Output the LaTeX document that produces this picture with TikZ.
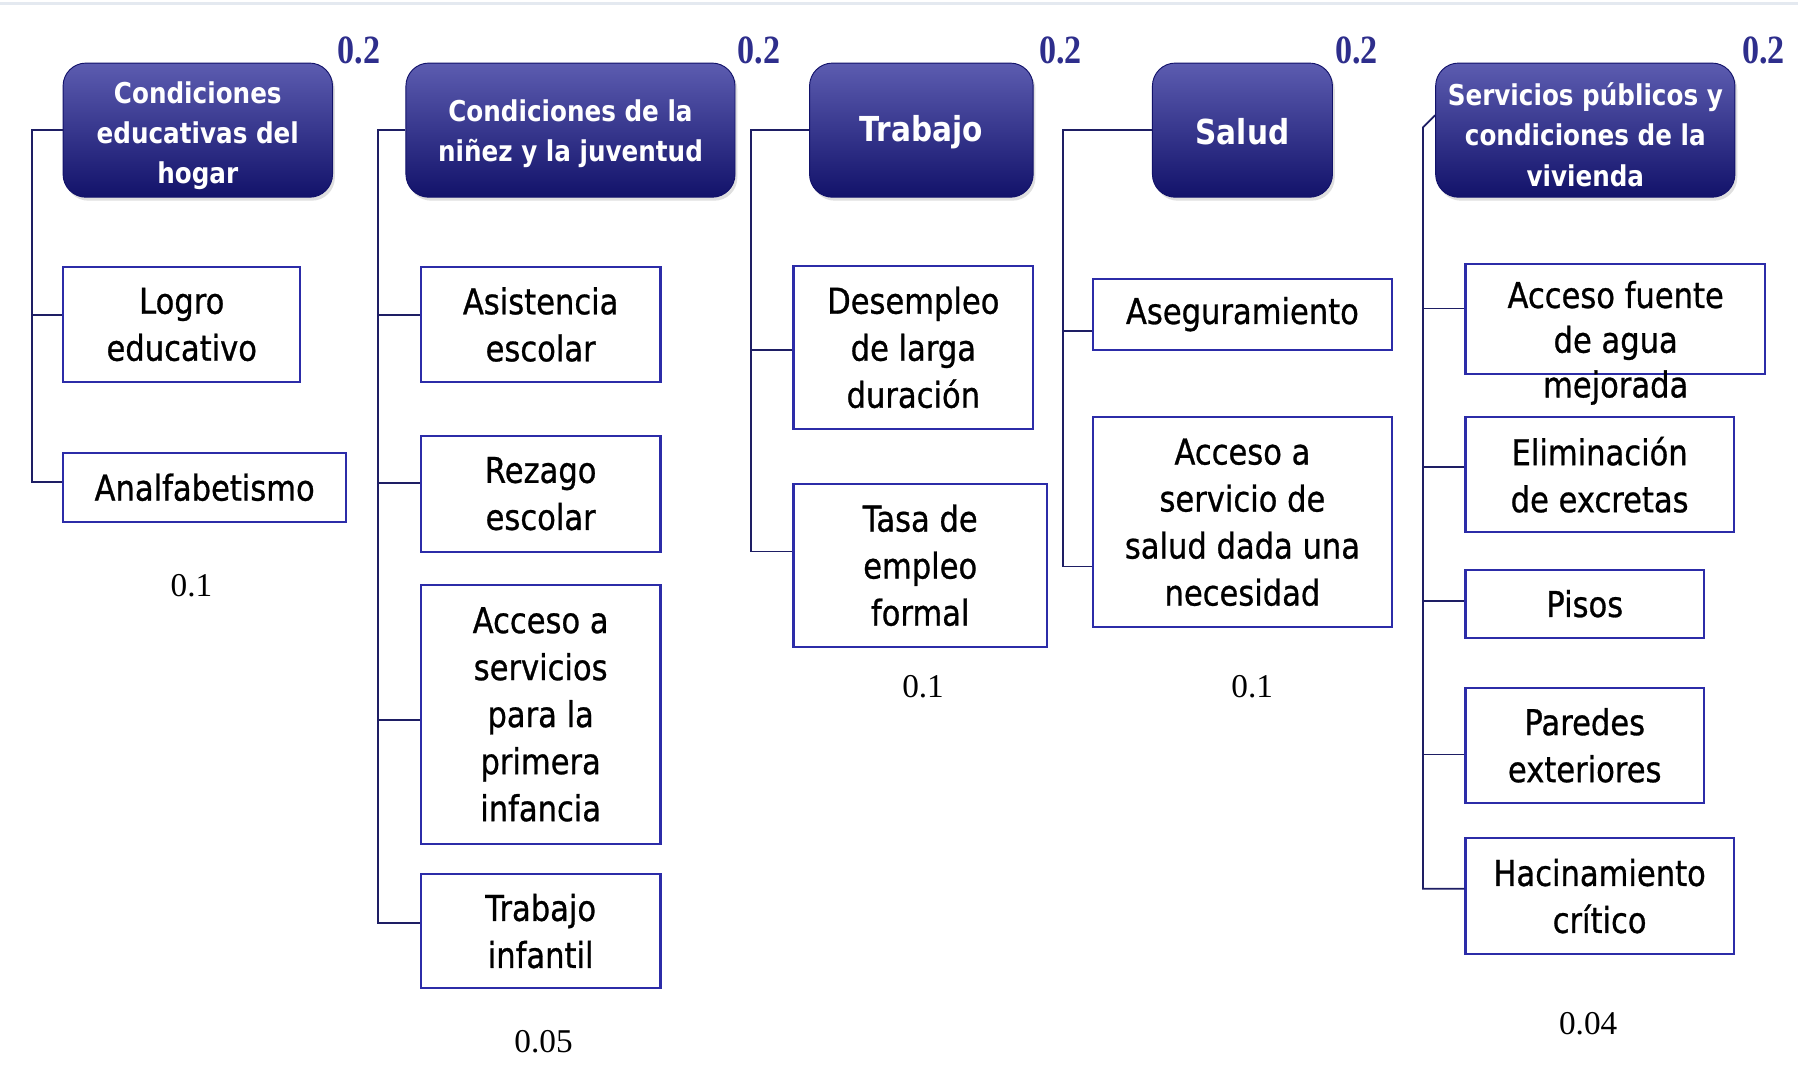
\documentclass[tikz,border=0pt]{standalone}
\usepackage{fontspec}
\usetikzlibrary{shadows,calc}
\setmainfont{DejaVu Sans}
\newfontfamily\bodyf[FakeStretch=0.86,FakeBold=0.8]{DejaVu Sans}
\newfontfamily\headf[FakeStretch=0.86]{DejaVu Sans}
\newfontfamily\numf{Liberation Serif}
\newfontfamily\wnumf[FakeStretch=0.85]{Liberation Serif}
\definecolor{navyline}{HTML}{1E1E64}
\definecolor{boxblue}{HTML}{2C2CA8}
\definecolor{htop}{HTML}{5C5CB0}
\definecolor{hbot}{HTML}{12126A}
\definecolor{wcol}{HTML}{2E2E8C}
\definecolor{topline}{HTML}{E4E9F0}
\tikzset{
  hbox/.style 2 args={rectangle, rounded corners=20pt, minimum width=#1pt, minimum height=#2pt,
     inner sep=0pt, top color=htop, bottom color=hbot, draw=hbot, line width=0.8pt,
     drop shadow={opacity=0.25, shadow xshift=2pt, shadow yshift=-3pt}},
  htext/.style={text=white, align=center, inner sep=0pt,
     font=\headf\bfseries\fontsize{25}{35}\selectfont},
  bbox/.style 2 args={rectangle, minimum width=#1pt, minimum height=#2pt, inner sep=0pt,
     draw=boxblue, line width=1.8pt, fill=white, align=center,
     font=\bodyf\fontsize{31}{41}\selectfont},
  conn/.style={draw=navyline, line width=1.6pt},
  wlab/.style={text=wcol, font=\wnumf\bfseries\fontsize{35}{35}\selectfont, inner sep=0pt},
  slab/.style={text=black, font=\numf\fontsize{29}{29}\selectfont, inner sep=0pt}
}
\begin{document}
\begin{tikzpicture}[x=1pt,y=-1pt]
\useasboundingbox[fill=white] (0,0) rectangle (1568,933);
\draw[topline, line width=3pt] (0,3) -- (1568,3);

% header boxes
\node[hbox={235}{117}] (h1) at (172.5,113.5) {};
\node[hbox={287}{117}] (h2) at (497.5,113.5) {};
\node[hbox={195}{117}] (h3) at (803.5,113.5) {};
\node[hbox={157}{117}] (h4) at (1083.5,113.5) {};
\node[hbox={261}{117}] (h5) at (1382.5,113.5) {};
\node[htext] (t1) at ([yshift=-5pt]h1.center) {Condiciones\\educativas del\\hogar};
\node[htext] (t2) at ([yshift=-3pt]h2.center) {Condiciones de la\\niñez y la juventud};
\node[htext, font=\headf\bfseries\fontsize{30}{34}\selectfont] (t3) at ([yshift=-2pt]h3.center) {Trabajo};
\node[htext, font=\headf\bfseries\fontsize{30}{34}\selectfont] (t4) at ([yshift=-1pt]h4.center) {Salud};
\node[htext] (t5) at ([yshift=-4pt]h5.center) {Servicios públicos y\\condiciones de la\\vivienda};

% weights
\node[wlab] (w1) at (313,44) {0.2};
\node[wlab] (w2) at (662,44) {0.2};
\node[wlab] (w3) at (925,44) {0.2};
\node[wlab] (w4) at (1183,44) {0.2};
\node[wlab] (w5) at (1538,44) {0.2};

% column 1
\node[bbox={207}{100}] (logro) at (158.5,283) {Logro\\educativo};
\node[bbox={247}{60}] (anal) at (178.5,425) {Analfabetismo};
% column 2
\node[bbox={209}{100}] (asis) at (471.5,283) {Asistencia\\escolar};
\node[bbox={209}{101}] (rez) at (471.5,430.5) {Rezago\\escolar};
\node[bbox={209}{226}] (acc) at (471.5,623) {Acceso a\\servicios\\para la\\primera\\infancia};
\node[bbox={209}{100}] (trab) at (471.5,812) {Trabajo\\infantil};
% column 3
\node[bbox={209}{142}] (desem) at (796.5,303) {Desempleo\\de larga\\duración};
\node[bbox={221}{142}] (tasa) at (802.5,493) {Tasa de\\empleo\\formal};
% column 4
\node[bbox={261}{62}] (aseg) at (1083.5,274) {Aseguramiento};
\node[bbox={261}{183}] (accs) at (1083.5,455.5) {Acceso a\\servicio de\\salud dada una\\necesidad};
% column 5
\node[bbox={261}{96}] (agua) at (1408.5,278) {};
\node[bbox={234}{100}] (elim) at (1395,414) {Eliminación\\de excretas};
\node[bbox={208}{59}] (pisos) at (1382,526.5) {Pisos};
\node[bbox={208}{100}] (pared) at (1382,650) {Paredes\\exteriores};
\node[bbox={234}{101}] (hac) at (1395,781.5) {Hacinamiento\\crítico};
\node[align=center, inner sep=0pt, font=\bodyf\fontsize{31}{39}\selectfont] (agualbl) at (1409,299) {Acceso fuente\\de agua\\mejorada};

% sub-weights
\node[slab] (s1) at (167,511) {0.1};
\node[slab] (s2) at (474,908) {0.05};
\node[slab] (s3) at (805,599) {0.1};
\node[slab] (s4) at (1092,599) {0.1};
\node[slab] (s5) at (1385,893) {0.04};

% connectors
\coordinate (v1) at (28,113.5);
\coordinate (v2) at (330,113.5);
\coordinate (v3) at (655,113.5);
\coordinate (v4) at (927,113.5);
\coordinate (v5) at (1241,111);

\draw[conn] (h1.west) -- (v1) |- ([yshift=5pt]anal.west);
\draw[conn] (v1) |- ([yshift=8pt]logro.west);

\draw[conn] (h2.west) -- (v2) |- ([yshift=7pt]trab.west);
\draw[conn] (v2) |- ([yshift=8pt]asis.west);
\draw[conn] (v2) |- ([yshift=9.5pt]rez.west);
\draw[conn] (v2) |- ([yshift=-5pt]acc.west);

\draw[conn] (h3.west) -- (v3) |- ([yshift=12pt]tasa.west);
\draw[conn] (v3) |- ([yshift=-2pt]desem.west);

\draw[conn] (h4.west) -- (v4) |- ([yshift=-38.5pt]accs.west);
\draw[conn] (v4) |- ([yshift=-15pt]aseg.west);

\draw[conn] ([yshift=13pt]h5.west) -- (v5) |- ([yshift=6.5pt]hac.west);
\draw[conn] (v5) |- ([yshift=9pt]agua.west);
\draw[conn] (v5) |- ([yshift=7pt]elim.west);
\draw[conn] (v5) |- ([yshift=2.5pt]pisos.west);
\draw[conn] (v5) |- ([yshift=-8pt]pared.west);
\end{tikzpicture}
\end{document}
